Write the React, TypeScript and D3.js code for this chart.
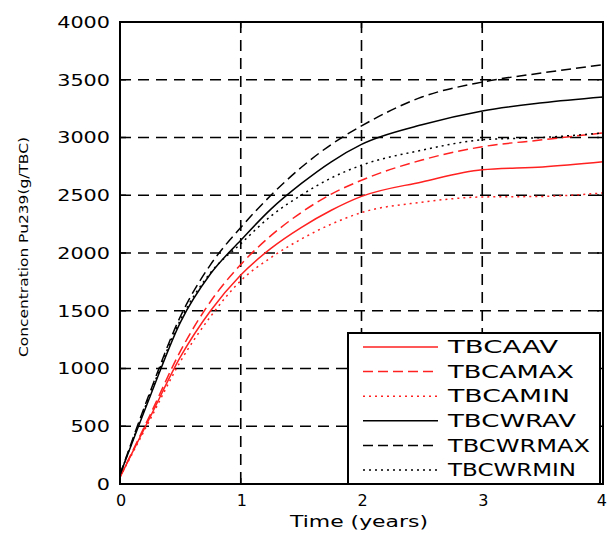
import React, { useEffect, useRef } from 'react';
import * as d3 from 'd3';

const years = [0, 0.25, 0.5, 0.75, 1, 1.25, 1.5, 1.75, 2, 2.5, 3, 3.5, 4];

const tbcaAv = [60, 580, 1100, 1500, 1810, 2040, 2220, 2370, 2490, 2615, 2720, 2745, 2790];
const tbcaMax = [60, 600, 1150, 1580, 1900, 2150, 2350, 2510, 2630, 2805, 2920, 2980, 3040];
const tbcaMin = [60, 560, 1060, 1450, 1760, 1960, 2120, 2250, 2350, 2440, 2485, 2490, 2520];
const tbcwrAv = [80, 760, 1400, 1820, 2110, 2380, 2600, 2790, 2940, 3110, 3230, 3300, 3350];
const tbcwrMax = [80, 800, 1450, 1900, 2220, 2500, 2740, 2940, 3100, 3350, 3480, 3560, 3630];
const tbcwrMin = [80, 780, 1420, 1830, 2080, 2320, 2500, 2650, 2760, 2890, 2980, 3000, 3040];

const seriesNames = ['TBCAAV', 'TBCAMAX', 'TBCAMIN', 'TBCWRAV', 'TBCWRMAX', 'TBCWRMIN'];
const seriesValues = [tbcaAv, tbcaMax, tbcaMin, tbcwrAv, tbcwrMax, tbcwrMin];
const seriesColors = ['#ff2020', '#ff2020', '#ff2020', '#000000', '#000000', '#000000'];
const seriesDashes = ['none', '10,5', '2,4', 'none', '10,5', '2,4'];

const xTicks = [0, 1, 2, 3, 4];
const yTicks = [0, 500, 1000, 1500, 2000, 2500, 3000, 3500, 4000];

export default function App() {
  const svgRef = useRef<SVGSVGElement>(null);
  const width = 607;
  const height = 533;

  useEffect(() => {
    if (!svgRef.current) return;
    const svg = d3.select(svgRef.current);
    svg.selectAll('*').remove();

    const left = 120, right = 603, top = 22, bottom = 484;
    const x = d3.scaleLinear().domain([0, 4]).range([left, right]);
    const y = d3.scaleLinear().domain([0, 4000]).range([bottom, top]);
    const font = '"DejaVu Sans", Verdana, sans-serif';

    svg.append('rect').attr('width', width).attr('height', height).attr('fill', '#fff');

    // grid
    const grid = svg.append('g').attr('stroke', '#000').attr('stroke-width', 1.6)
      .attr('stroke-dasharray', '11,7');
    xTicks.slice(1, -1).forEach(t => {
      grid.append('line').attr('x1', x(t)).attr('x2', x(t)).attr('y1', top).attr('y2', bottom);
    });
    yTicks.slice(1, -1).forEach(t => {
      grid.append('line').attr('x1', left).attr('x2', right).attr('y1', y(t)).attr('y2', y(t));
    });

    // curves
    const line = d3.line<number>()
      .x((_, i) => x(years[i]))
      .y(d => y(d))
      .curve(d3.curveMonotoneX);

    seriesValues.forEach((vals, i) => {
      svg.append('path')
        .attr('d', line(vals) || '')
        .attr('fill', 'none')
        .attr('stroke', seriesColors[i])
        .attr('stroke-width', 1.5)
        .attr('stroke-dasharray', seriesDashes[i]);
    });

    // frame and inward ticks
    svg.append('rect')
      .attr('x', left).attr('y', top)
      .attr('width', right - left).attr('height', bottom - top)
      .attr('fill', 'none').attr('stroke', '#000').attr('stroke-width', 2);

    const ticks = svg.append('g').attr('stroke', '#000').attr('stroke-width', 1.5);
    xTicks.forEach(t => {
      ticks.append('line').attr('x1', x(t)).attr('x2', x(t)).attr('y1', bottom).attr('y2', bottom - 6);
      ticks.append('line').attr('x1', x(t)).attr('x2', x(t)).attr('y1', top).attr('y2', top + 6);
    });
    yTicks.forEach(t => {
      ticks.append('line').attr('x1', left).attr('x2', left + 6).attr('y1', y(t)).attr('y2', y(t));
      ticks.append('line').attr('x1', right).attr('x2', right - 6).attr('y1', y(t)).attr('y2', y(t));
    });

    // tick labels
    yTicks.forEach(t => {
      const s = String(t);
      svg.append('text')
        .attr('x', 110).attr('y', y(t)).attr('dy', '0.36em')
        .attr('text-anchor', 'end')
        .attr('font-family', font).attr('font-size', 16)
        .attr('textLength', s.length * 13.2).attr('lengthAdjust', 'spacingAndGlyphs')
        .attr('fill', '#000')
        .text(s);
    });
    xTicks.forEach(t => {
      const last = t === xTicks[xTicks.length - 1];
      svg.append('text')
        .attr('x', last ? 607 : x(t) + 1).attr('y', 500).attr('dy', '0.36em')
        .attr('text-anchor', last ? 'end' : 'middle')
        .attr('font-family', font).attr('font-size', 16)
        .attr('fill', '#000')
        .text(String(t));
    });

    // axis titles
    svg.append('text')
      .attr('x', 359).attr('y', 522).attr('dy', '0.36em')
      .attr('text-anchor', 'middle')
      .attr('font-family', font).attr('font-size', 15)
      .attr('textLength', 138).attr('lengthAdjust', 'spacingAndGlyphs')
      .attr('fill', '#000')
      .text('Time (years)');

    svg.append('text')
      .attr('transform', `translate(24, 247) rotate(-90)`)
      .attr('dy', '0.36em')
      .attr('text-anchor', 'middle')
      .attr('font-family', font).attr('font-size', 12)
      .attr('textLength', 220).attr('lengthAdjust', 'spacingAndGlyphs')
      .attr('fill', '#000')
      .text('Concentration Pu239(g/TBC)');

    // legend
    const lg = svg.append('g');
    lg.append('rect')
      .attr('x', 348).attr('y', 333).attr('width', 252).attr('height', 151)
      .attr('fill', '#fff').attr('stroke', '#000').attr('stroke-width', 2);
    const legendWidths = [110, 126, 122, 128, 142, 128];
    seriesNames.forEach((name, i) => {
      const ly = 347 + i * 24.6;
      lg.append('line')
        .attr('x1', 363).attr('x2', 438).attr('y1', ly).attr('y2', ly)
        .attr('stroke', seriesColors[i]).attr('stroke-width', 1.5)
        .attr('stroke-dasharray', seriesDashes[i]);
      lg.append('text')
        .attr('x', 448).attr('y', ly).attr('dy', '0.36em')
        .attr('font-family', font).attr('font-size', 17)
        .attr('textLength', legendWidths[i]).attr('lengthAdjust', 'spacingAndGlyphs')
        .attr('fill', '#000')
        .text(name);
    });
  }, []);

  return (
    <svg
      ref={svgRef}
      width={width}
      height={height}
      viewBox={`0 0 ${width} ${height}`}
      style={{ position: 'absolute', left: 0, top: 0 }}
    />
  );
}
